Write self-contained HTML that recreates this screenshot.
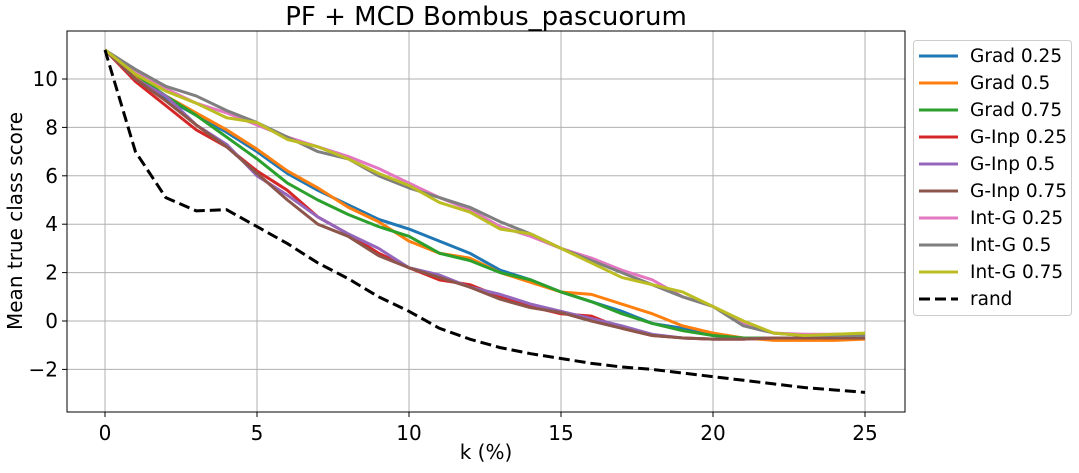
<!DOCTYPE html>
<html><head><meta charset="utf-8">
<style>body{margin:0;background:#fff}svg text{font-family:"DejaVu Sans","Liberation Sans",sans-serif;fill:#000}</style>
</head><body>
<svg id="chart" width="1079" height="468" xmlns="http://www.w3.org/2000/svg">
<g id="grid"></g><g id="series"></g><g id="axes"></g><g id="legend"></g>
</svg>
<script>
const ks=[0,1,2,3,4,5,6,7,8,9,10,11,12,13,14,15,16,17,18,19,20,21,22,23,24,25];
const names=["Grad 0.25","Grad 0.5","Grad 0.75","G-Inp 0.25","G-Inp 0.5","G-Inp 0.75","Int-G 0.25","Int-G 0.5","Int-G 0.75","rand"];
const grad25=[11.2,10.1,9.2,8.5,7.8,7.0,6.1,5.4,4.8,4.2,3.8,3.3,2.8,2.1,1.7,1.2,0.8,0.4,-0.1,-0.3,-0.6,-0.7,-0.7,-0.7,-0.7,-0.7];
const grad5=[11.2,10.1,9.3,8.6,7.9,7.1,6.2,5.5,4.7,4.1,3.3,2.8,2.6,2.0,1.6,1.2,1.1,0.7,0.3,-0.2,-0.5,-0.7,-0.8,-0.8,-0.8,-0.75];
const grad75=[11.2,10.2,9.3,8.5,7.6,6.7,5.7,5.0,4.4,3.9,3.5,2.8,2.5,2.0,1.7,1.2,0.8,0.3,-0.1,-0.4,-0.6,-0.7,-0.7,-0.7,-0.7,-0.65];
const ginp25=[11.2,9.9,8.9,7.9,7.2,6.2,5.4,4.3,3.6,2.8,2.2,1.7,1.5,1.0,0.6,0.3,0.2,-0.3,-0.6,-0.7,-0.75,-0.75,-0.7,-0.7,-0.7,-0.7];
const ginp5=[11.2,10.0,9.3,8.1,7.3,6.0,5.2,4.3,3.6,3.0,2.2,1.9,1.4,1.1,0.7,0.4,0.1,-0.2,-0.55,-0.7,-0.75,-0.75,-0.7,-0.7,-0.7,-0.65];
const ginp75=[11.2,10.0,9.1,8.1,7.2,6.1,5.0,4.0,3.5,2.7,2.2,1.8,1.4,0.9,0.55,0.35,0.0,-0.3,-0.6,-0.7,-0.75,-0.75,-0.7,-0.7,-0.7,-0.7];
const intg25=[11.2,10.3,9.6,9.0,8.6,8.1,7.6,7.2,6.8,6.3,5.7,5.1,4.6,3.9,3.5,3.0,2.6,2.1,1.7,1.0,0.6,-0.1,-0.5,-0.55,-0.55,-0.55];
const intg5=[11.2,10.4,9.7,9.3,8.7,8.2,7.6,7.0,6.7,6.0,5.5,5.1,4.7,4.1,3.6,3.0,2.5,2.0,1.5,1.0,0.6,-0.2,-0.5,-0.6,-0.6,-0.6];
const intg75=[11.2,10.2,9.5,9.0,8.4,8.2,7.5,7.2,6.7,6.1,5.6,4.9,4.5,3.8,3.6,3.0,2.4,1.8,1.5,1.2,0.6,0.0,-0.5,-0.6,-0.55,-0.5];
const rand=[11.2,7.0,5.1,4.55,4.6,3.9,3.2,2.4,1.75,1.0,0.4,-0.3,-0.75,-1.1,-1.35,-1.55,-1.75,-1.9,-2.0,-2.15,-2.3,-2.45,-2.6,-2.75,-2.85,-2.95];
const xTicks=[0,5,10,15,20,25];
const yTicks=[-2,0,2,4,6,8,10];

const NS="http://www.w3.org/2000/svg";
const colors=["#1f77b4","#ff7f0e","#2ca02c","#d62728","#9467bd","#8c564b","#e377c2","#7f7f7f","#bcbd22","#000"];
const series=[grad25,grad5,grad75,ginp25,ginp5,ginp75,intg25,intg5,intg75,rand];
const L=67,R=905,T=31,B=412;
const xs=v=>105+v*30.4;
const ys=v=>321-v*24.2;
function mk(tag,attrs,parent){const e=document.createElementNS(NS,tag);for(const k in attrs)e.setAttribute(k,attrs[k]);parent.appendChild(e);return e;}
const svg=document.getElementById('chart');
const grid=document.getElementById('grid'),axes=document.getElementById('axes'),sg=document.getElementById('series'),lg=document.getElementById('legend');
xTicks.forEach(t=>{
 const g=mk('line',{x1:xs(t),x2:xs(t),y1:T,y2:B,stroke:'#b0b0b0','stroke-width':1},grid);
 
 
 mk('line',{x1:xs(t),x2:xs(t),y1:B,y2:B+5,stroke:'#000'},axes);
 const tx=mk('text',{x:xs(t),y:B+28,'text-anchor':'middle','font-size':20},axes);
 tx.textContent=t;
 
 
});
yTicks.forEach(t=>{
 const g=mk('line',{x1:L,x2:R,y1:ys(t),y2:ys(t),stroke:'#b0b0b0','stroke-width':1},grid);
 
 
 mk('line',{x1:L-5,x2:L,y1:ys(t),y2:ys(t),stroke:'#000'},axes);
 const tx=mk('text',{x:L-9,y:ys(t)+7,'text-anchor':'end','font-size':20},axes);
 tx.textContent=t<0?'\u2212'+(-t):t;
 
 
});
const frame=mk('rect',{x:L,y:T,width:R-L,height:B-T,fill:'none',stroke:'#000','stroke-width':1},axes);


series.forEach((s,i)=>{
 const p=mk('polyline',{points:s.map((v,j)=>xs(ks[j])+','+ys(v)).join(' '),fill:'none',stroke:colors[i],'stroke-width':3,'stroke-linejoin':'round'},sg);
 if(i===9)p.setAttribute('stroke-dasharray','11,5');
 
 
});
const title=mk('text',{x:486,y:25,'text-anchor':'middle','font-size':26},svg);
title.textContent='PF + MCD Bombus_pascuorum';


const xl=mk('text',{x:486,y:459,'text-anchor':'middle','font-size':20},svg);
xl.textContent='k (%)';


const yl=mk('text',{x:0,y:0,'text-anchor':'middle','font-size':20,transform:'translate(22,221) rotate(-90)'},svg);
yl.textContent='Mean true class score';


const box=mk('rect',{x:913.5,y:40.5,width:158,height:275,rx:3,fill:'#fff',stroke:'#ccc'},lg);


names.forEach((n,i)=>{
 const y=56+i*27;
 const ln=mk('line',{x1:919,x2:958,y1:y,y2:y,stroke:colors[i],'stroke-width':3},lg);
 if(i===9)ln.setAttribute('stroke-dasharray','11,5');
 
 
 const t=mk('text',{x:970,y:y+6,'font-size':18.5},lg);
 t.textContent=n;
 
 
});
</script>
</body></html>
